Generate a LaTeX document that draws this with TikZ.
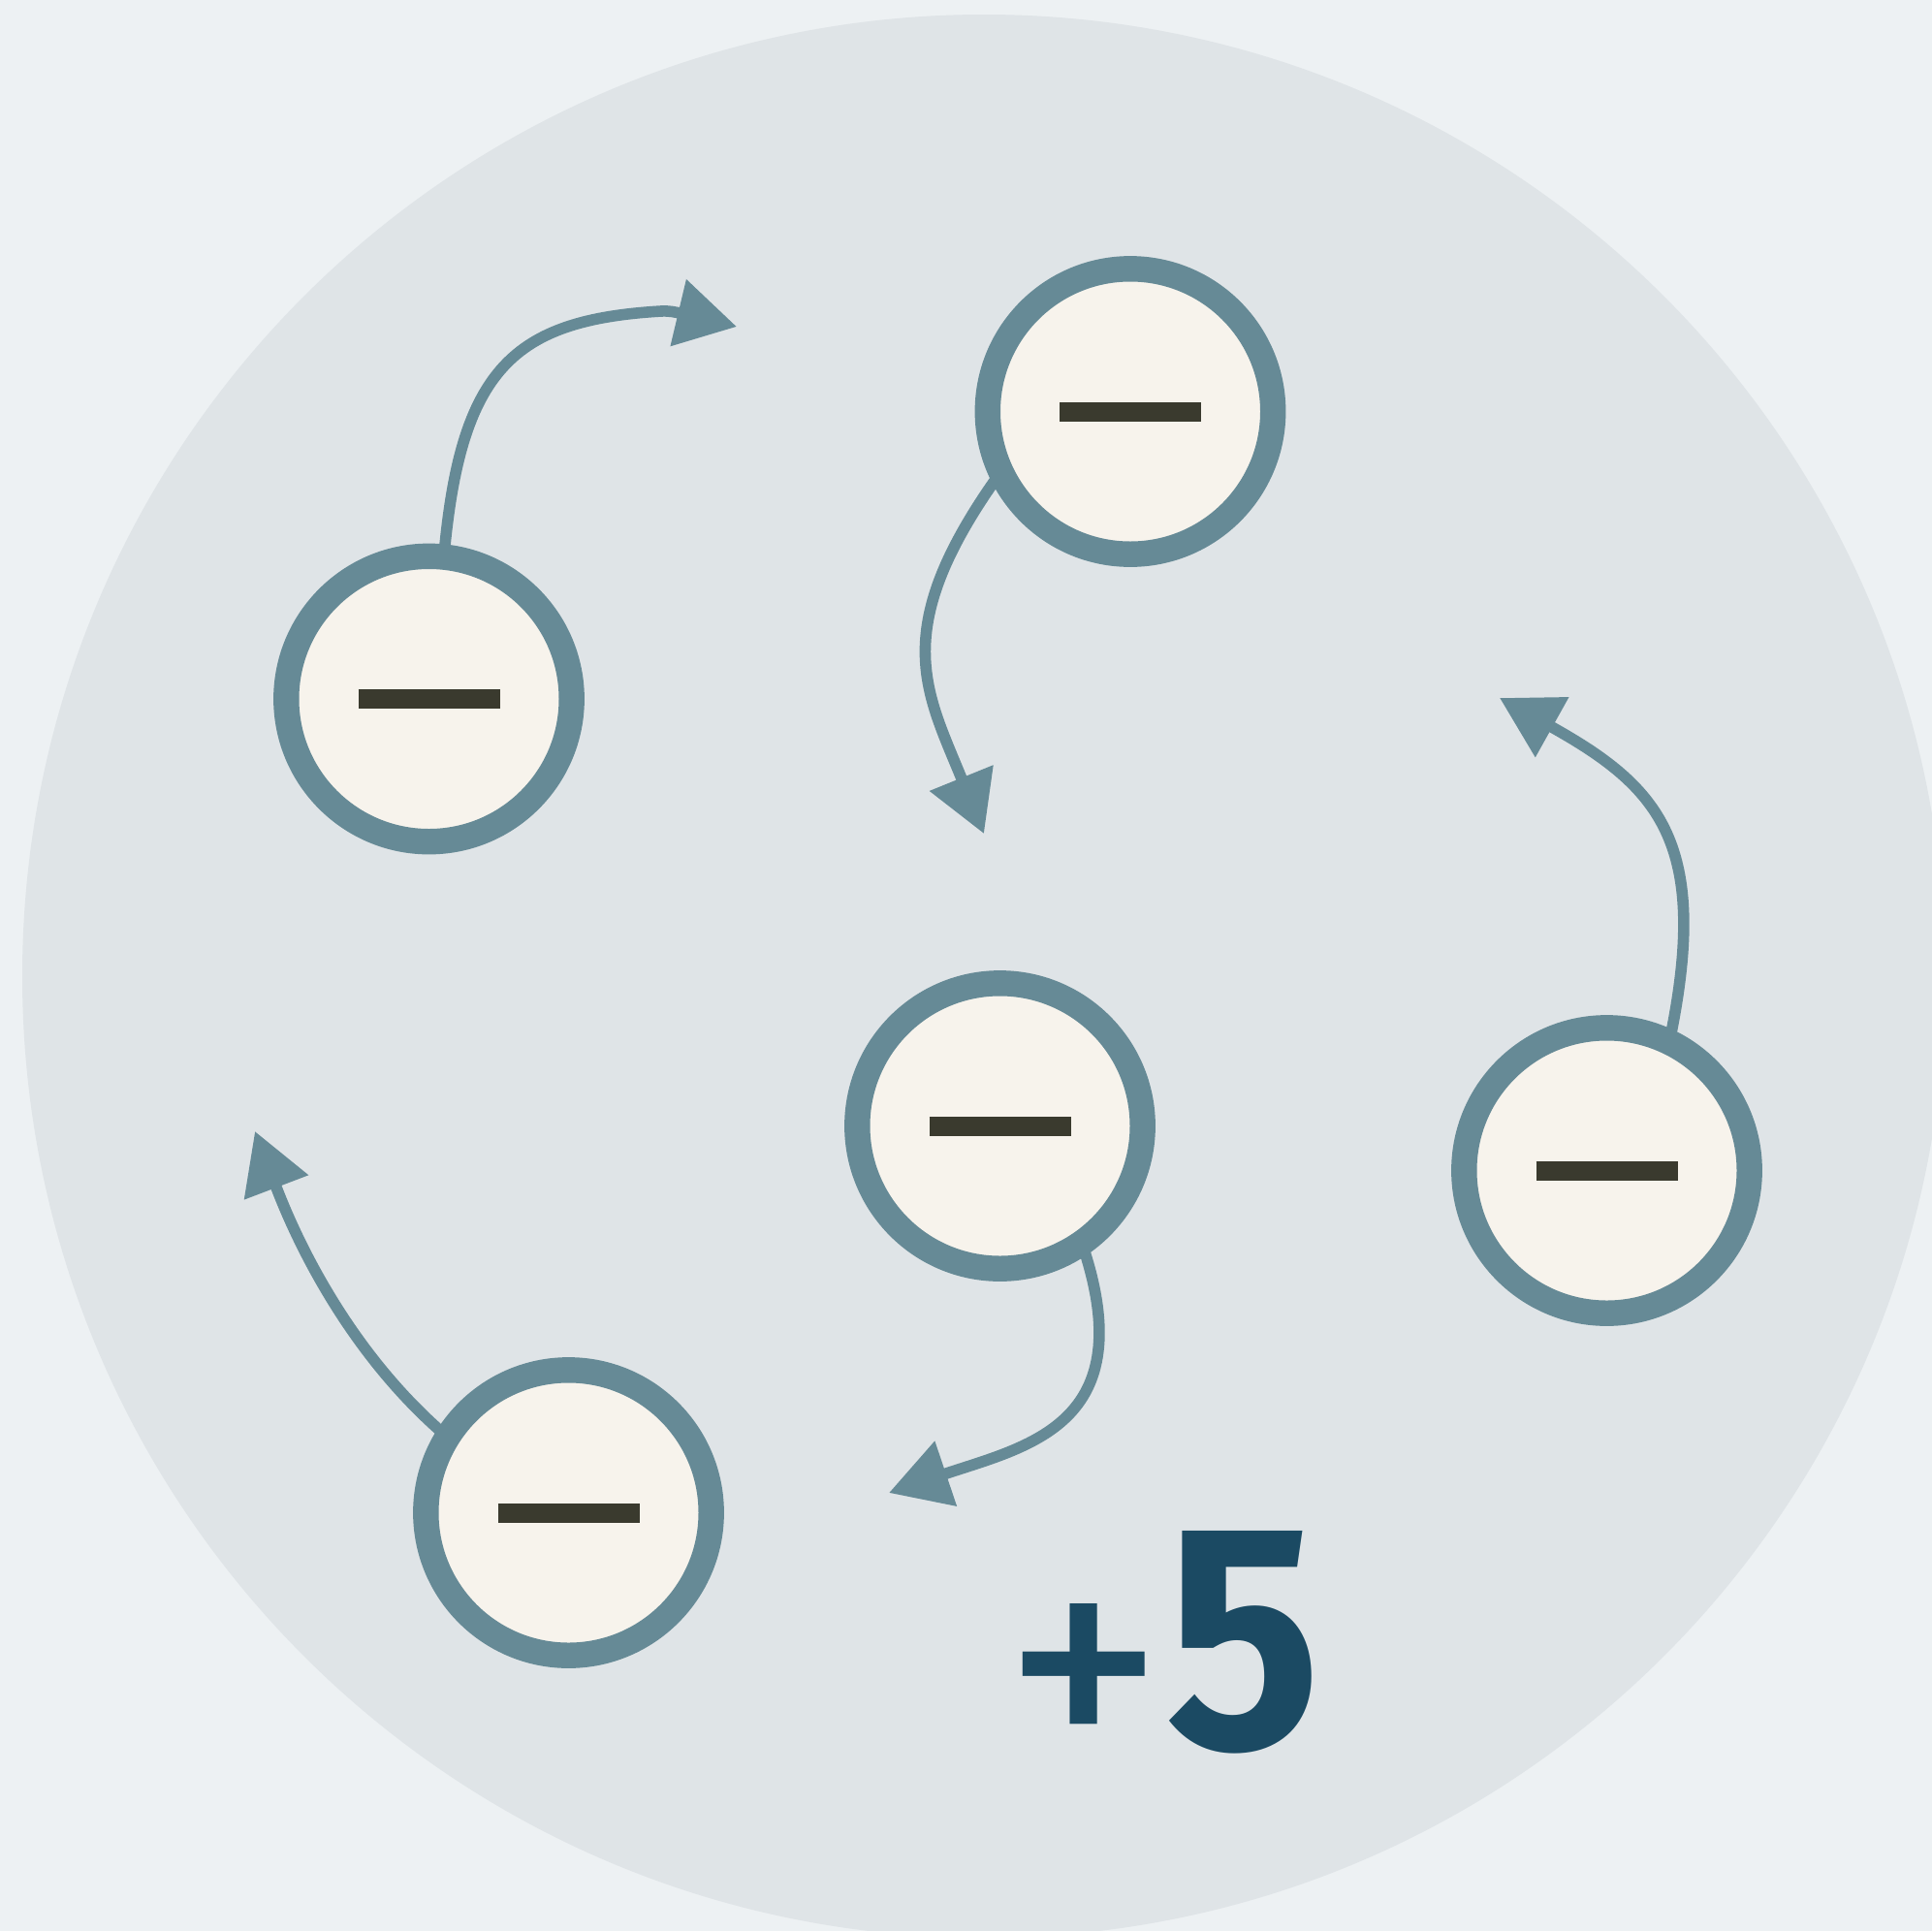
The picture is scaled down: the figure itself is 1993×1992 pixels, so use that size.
\documentclass[tikz,border=0pt]{standalone}
\usepackage{fontspec}
\usepackage{graphicx}
\usetikzlibrary{arrows.meta}
\newfontfamily\numfont{Fira Sans}
\definecolor{outerbg}{HTML}{EDF1F3}
\definecolor{bigdisc}{HTML}{DFE4E7}
\definecolor{ringc}{HTML}{668A96}
\definecolor{cream}{HTML}{F7F3EC}
\definecolor{minusc}{HTML}{3A3A2E}
\definecolor{numc}{HTML}{1B4A63}
\pgfdeclarelayer{bg}
\pgfsetlayers{bg,main}
\newcommand\minusbar{\textcolor{minusc}{\rule{36.5pt}{5pt}}}
\tikzset{
  charge/.style={circle, draw=ringc, fill=cream, line width=6.6pt, minimum size=73.6pt, inner sep=0pt, outer sep=0pt},
  flow/.style={draw=ringc, line width=2.9pt, -{Triangle[length=15.5pt,width=17pt]}},
}
\begin{document}
\begin{tikzpicture}[x=0.25pt,y=-0.25pt]
\useasboundingbox (0,0) rectangle (1993,1992);
\begin{pgfonlayer}{bg}
  \fill[outerbg] (0,0) rectangle (1993,1992);
  \begin{scope}
    \clip (0,0) rectangle (1993,1992);
    \fill[bigdisc] (1015,1007) circle[radius=992];
  \end{scope}
\end{pgfonlayer}

\node[charge] (c1) at (442.5,721) {\minusbar};
\node[charge] (c2) at (1166,424.5) {\minusbar};
\node[charge] (c3) at (1031.5,1161.5) {\minusbar};
\node[charge] (c4) at (1657.5,1207.5) {\minusbar};
\node[charge] (c5) at (586.5,1560.5) {\minusbar};

\coordinate (t1) at (760,337);
\coordinate (t2) at (1015,860);
\coordinate (t3) at (1547,720);
\coordinate (t4) at (263,1167);
\coordinate (t5) at (917,1540);

\begin{pgfonlayer}{bg}
  \draw[flow] (c1.84) .. controls (475,380) and (530,330) .. (682,321) .. controls (690,320.5) and (697,322) .. (t1);
  \draw[flow] (c2.205) .. controls (915,650) and (955,712) .. (t2);
  \draw[flow] (c4.64) .. controls (1765,870) and (1712,812) .. (t3);
  \draw[flow] (c5.148) .. controls (347,1385) and (295,1251) .. (t4);
  \draw[flow] (c3.-55) .. controls (1180,1470) and (1059,1492) .. (t5);
\end{pgfonlayer}

\node[anchor=base, inner sep=0pt, text=numc] (q) at (1199,1803) {\resizebox{82pt}{56pt}{\numfont\raisebox{-0.7pt}{\scalebox{1.12}[1]{+}}\bfseries 5}};
\end{tikzpicture}
\end{document}
